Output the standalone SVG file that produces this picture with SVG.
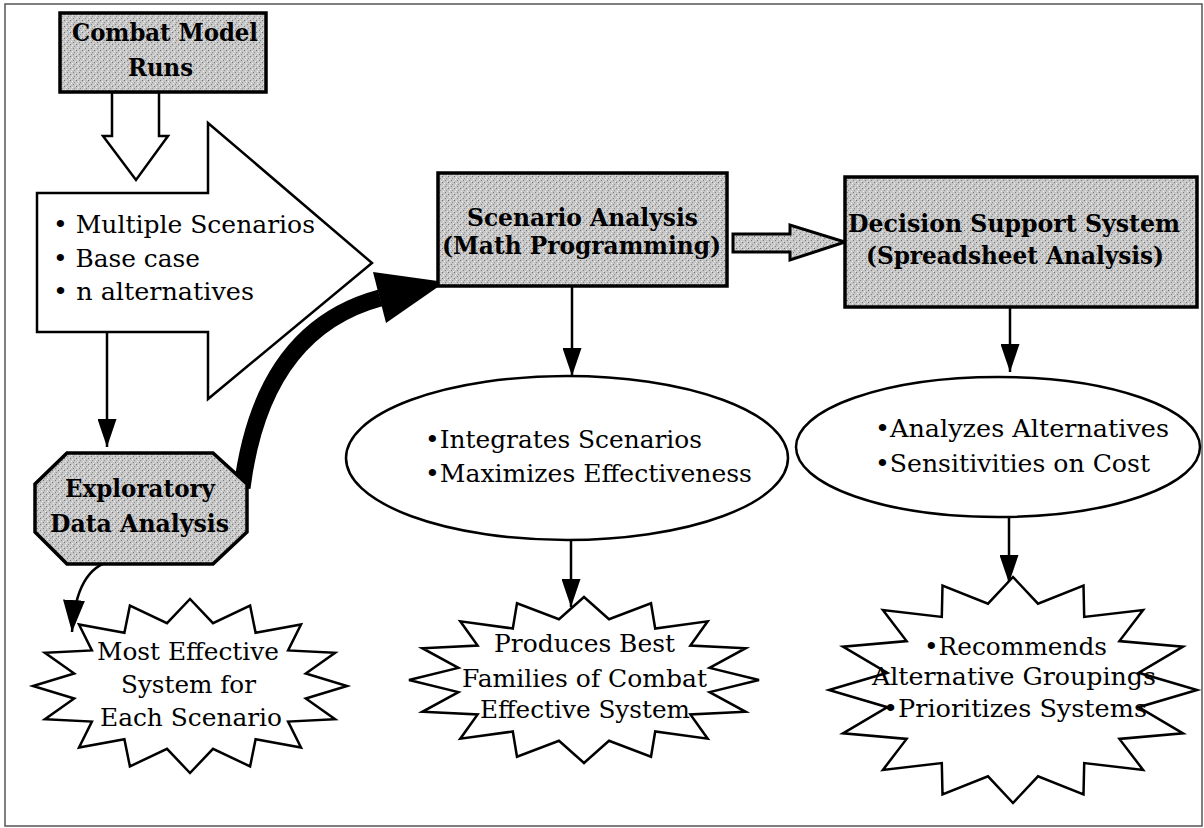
<svg xmlns="http://www.w3.org/2000/svg" width="1204" height="828" viewBox="0 0 1204 828">
<style>
.box{fill:url(#stip);stroke:#000;stroke-width:3.5}
.shape{fill:#fff;stroke:#000;stroke-width:2.5;stroke-linejoin:miter}
.t{font-family:"DejaVu Serif","Liberation Serif",serif;font-size:25px;fill:#000}
.b{font-weight:bold}
.ln{stroke:#000;stroke-width:2.5;fill:none}
</style>
<defs>
<pattern id="stip" width="6" height="6" patternUnits="userSpaceOnUse">
<rect width="6" height="6" fill="#c6c6c6"/>
<rect x="1" y="0" width="1" height="1" fill="#808080"/>
<rect x="4" y="2" width="1" height="1" fill="#707070"/>
<rect x="2" y="4" width="1" height="1" fill="#909090"/>
<rect x="0" y="3" width="1" height="1" fill="#efefef"/>
<rect x="5" y="5" width="1" height="1" fill="#efefef"/>
<rect x="3" y="1" width="1" height="1" fill="#e6e6e6"/>
</pattern>
<marker id="ah" viewBox="0 0 28 19" refX="28" refY="9.5" markerWidth="28" markerHeight="19" markerUnits="userSpaceOnUse" orient="auto">
<path d="M0,0 L28,9.5 L0,19 z" fill="#000"/>
</marker>
<marker id="ah2" viewBox="0 0 32 22" refX="32" refY="11" markerWidth="32" markerHeight="22" markerUnits="userSpaceOnUse" orient="auto">
<path d="M0,0 L32,11 L0,22 z" fill="#000"/>
</marker>
</defs>
<rect x="0" y="0" width="1204" height="828" fill="#fff"/>
<rect x="5" y="4" width="1197" height="822" fill="none" stroke="#555" stroke-width="1.5"/>

<g id="connectors">
<polygon class="shape" points="112,92 159,92 159,136 168,136 136,180 103,136 112,136"/>
<path class="ln" d="M107,320 L107,447" marker-end="url(#ah)"/>
<path d="M242,488 Q262,330 380,298" fill="none" stroke="#000" stroke-width="17"/>
<polygon points="373,272 386,323 445,282" fill="#000"/>
<polygon points="733,234 790,234 790,225 845,242 790,260 790,252 733,252" fill="url(#stip)" stroke="#000" stroke-width="3"/>
<path class="ln" d="M572,286 L572,376" marker-end="url(#ah)"/>
<path class="ln" d="M1010,307 L1010,372" marker-end="url(#ah)"/>
<path class="ln" d="M571,540 L571,607" marker-end="url(#ah)"/>
<path class="ln" d="M1009,517 L1009,583" marker-end="url(#ah)"/>
<path class="ln" d="M112,561 Q76,568 72,632" marker-end="url(#ah2)"/>
</g>

<g id="combat-model-runs">
<rect class="box" x="60" y="13" width="206" height="79"/>
<text class="t b" x="72" y="41" textLength="186" lengthAdjust="spacingAndGlyphs">Combat Model</text>
<text class="t b" x="128" y="76" textLength="65" lengthAdjust="spacingAndGlyphs">Runs</text>
</g>

<g id="scenarios-arrow">
<polygon class="shape" points="37,193 208,193 208,123 372,263 208,399 208,332 37,332"/>
<text class="t" x="53" y="233" textLength="262" lengthAdjust="spacingAndGlyphs">• Multiple Scenarios</text>
<text class="t" x="53" y="267" textLength="147" lengthAdjust="spacingAndGlyphs">• Base case</text>
<text class="t" x="53" y="300" textLength="201" lengthAdjust="spacingAndGlyphs">• n alternatives</text>
</g>

<g id="exploratory">
<polygon class="box" points="67,453 213,453 247,484 247,532 213,564 67,564 35,532 35,484"/>
<text class="t b" x="65" y="497" textLength="150" lengthAdjust="spacingAndGlyphs">Exploratory</text>
<text class="t b" x="50" y="532" textLength="179" lengthAdjust="spacingAndGlyphs">Data Analysis</text>
</g>

<g id="scenario-analysis">
<rect class="box" x="438" y="173" width="289" height="113"/>
<text class="t b" x="467" y="226" textLength="231" lengthAdjust="spacingAndGlyphs">Scenario Analysis</text>
<text class="t b" x="442" y="254" textLength="279" lengthAdjust="spacingAndGlyphs">(Math Programming)</text>
</g>

<g id="decision-support">
<rect class="box" x="845" y="177" width="352" height="130"/>
<text class="t b" x="848" y="232" textLength="332" lengthAdjust="spacingAndGlyphs">Decision Support System</text>
<text class="t b" x="866" y="264" textLength="298" lengthAdjust="spacingAndGlyphs">(Spreadsheet Analysis)</text>
</g>

<g id="integrates">
<ellipse class="shape" cx="567" cy="458" rx="221" ry="82" stroke-width="2"/>
<text class="t" x="425" y="448" textLength="277" lengthAdjust="spacingAndGlyphs">•Integrates Scenarios</text>
<text class="t" x="425" y="482" textLength="327" lengthAdjust="spacingAndGlyphs">•Maximizes Effectiveness</text>
</g>

<g id="analyzes">
<ellipse class="shape" cx="998" cy="447" rx="202" ry="70" stroke-width="2"/>
<text class="t" x="875" y="437" textLength="294" lengthAdjust="spacingAndGlyphs">•Analyzes Alternatives</text>
<text class="t" x="875" y="472" textLength="275" lengthAdjust="spacingAndGlyphs">•Sensitivities on Cost</text>
</g>

<g id="most-effective">
<polygon class="shape" points="347,686 305.8,698.5 335.1,719.3 288.1,721.6 301,747.5 255.6,739.2 250.1,766.4 213,748.8 190,773 167,748.8 129.9,766.4 124.4,739.2 79,747.5 91.9,721.6 44.9,719.3 74.2,698.5 33,686 74.2,673.5 44.9,652.7 91.9,650.4 79,624.5 124.4,632.8 129.9,605.6 167,623.2 190,599 213,623.2 250.1,605.6 255.6,632.8 301,624.5 288.1,650.4 335.1,652.7 305.8,673.5"/>
<text class="t" x="97" y="660" textLength="182" lengthAdjust="spacingAndGlyphs">Most Effective</text>
<text class="t" x="121" y="693" textLength="135" lengthAdjust="spacingAndGlyphs">System for</text>
<text class="t" x="100" y="726" textLength="182" lengthAdjust="spacingAndGlyphs">Each Scenario</text>
</g>

<g id="produces-best">
<polygon class="shape" points="759,680 709.6,692.1 745.7,711.8 690.4,714.5 707.7,738.7 655.2,731.5 651,756.7 609,740.8 584,763 559,740.8 517,756.7 512.8,731.5 460.3,738.7 477.6,714.5 422.3,711.8 458.4,692.1 409,680 458.4,667.9 422.3,648.2 477.6,645.5 460.3,621.3 512.8,628.5 517,603.3 559,619.2 584,597 609,619.2 651,603.3 655.2,628.5 707.7,621.3 690.4,645.5 745.7,648.2 709.6,667.9"/>
<text class="t" x="494" y="652" textLength="181" lengthAdjust="spacingAndGlyphs">Produces Best</text>
<text class="t" x="462" y="687" textLength="245" lengthAdjust="spacingAndGlyphs">Families of Combat</text>
<text class="t" x="480" y="718" textLength="210" lengthAdjust="spacingAndGlyphs">Effective System</text>
</g>

<g id="recommends">
<polygon class="shape" points="1197,690 1138.6,707.2 1183,733.3 1119.4,738.9 1143.1,769.9 1084.2,763.1 1083.5,794.4 1038,776.3 1013,803 988,776.3 942.5,794.4 941.8,763.1 882.9,769.9 906.6,738.9 843,733.3 887.4,707.2 829,690 887.4,672.8 843,646.7 906.6,641.1 882.9,610.1 941.8,616.9 942.5,585.6 988,603.7 1013,577 1038,603.7 1083.5,585.6 1084.2,616.9 1143.1,610.1 1119.4,641.1 1183,646.7 1138.6,672.8"/>
<text class="t" x="924" y="655" textLength="183" lengthAdjust="spacingAndGlyphs">•Recommends</text>
<text class="t" x="872" y="685" textLength="284" lengthAdjust="spacingAndGlyphs">Alternative Groupings</text>
<text class="t" x="883" y="717" textLength="264" lengthAdjust="spacingAndGlyphs">•Prioritizes Systems</text>
</g>
</svg>
